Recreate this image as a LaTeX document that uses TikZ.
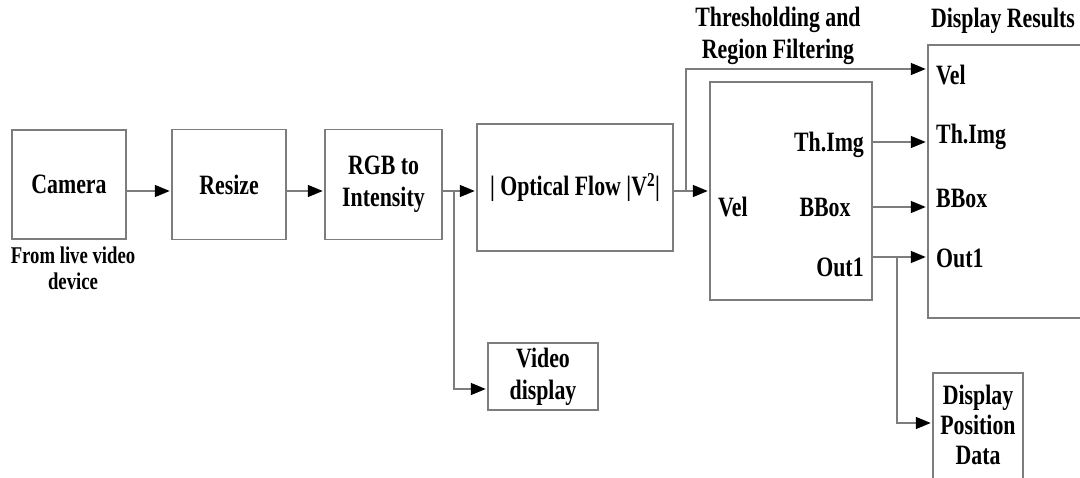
\documentclass[tikz,border=0pt]{standalone}
\usepackage{fontspec}
\setmainfont{Liberation Serif}[FakeStretch=0.78]
\usetikzlibrary{arrows.meta}
\definecolor{linegray}{RGB}{125,125,125}
\begin{document}
\begin{tikzpicture}[x=1pt,y=-1pt,
  box/.style={draw=linegray,line width=1.5pt,inner sep=0pt,align=center,
    font=\bfseries\fontsize{28}{32}\selectfont},
  lbl/.style={inner sep=0pt,align=center,font=\bfseries\fontsize{28}{32}\selectfont},
  smalllbl/.style={inner sep=0pt,align=center,font=\bfseries\fontsize{24}{26}\selectfont},
  arr/.style={draw=linegray,line width=1.5pt,shorten >=1.5pt,
    -{Triangle[length=15pt,width=12pt,color=black]}},
  ln/.style={draw=linegray,line width=1.5pt}]
\useasboundingbox (0,0) rectangle (1080,478);
\clip (0,0) rectangle (1080,478);
\fill[white] (0,0) rectangle (1080,478);

% boxes
\node[box,minimum width=114pt,minimum height=109pt] (cam) at (69,184.5) {Camera};
\node[box,minimum width=114pt,minimum height=110pt] (res) at (229,184.5) {Resize};
\node[box,minimum width=117pt,minimum height=110pt] (rgb) at (383.5,184.5) {RGB to\\Intensity};
\node[box,minimum width=196pt,minimum height=127pt] (of) at (575,187.5) {| Optical Flow |V\textsuperscript{2}|};
\node[box,minimum width=110pt,minimum height=67pt] (vid) at (543,376.5) {Video\\display};
\node[box,minimum width=162pt,minimum height=218pt] (th) at (791,191) {};
\node[box,minimum width=162pt,minimum height=273pt] (dr) at (1009,181.5) {};
\node[box,minimum width=90pt,minimum height=117pt] (dpd) at (978,431.5) {};

% texts
\node[smalllbl] (from) at (73,268) {From live video\\device};
\node[lbl] (tt) at (778,36) {Thresholding and\\Region Filtering};
\node[lbl] (drt) at (1003,21) {Display Results};
\node[lbl,anchor=west] (velin) at (718,207) {Vel};
\node[lbl] (thimg) at (829,145) {Th.Img};
\node[lbl] (bbox) at (825,207) {BBox};
\node[lbl] (out1) at (840,267) {Out1};
\node[lbl,anchor=west] (dvel) at (936,75) {Vel};
\node[lbl,anchor=west] (dthimg) at (936,137) {Th.Img};
\node[lbl,anchor=west] (dbbox) at (936,198) {BBox};
\node[lbl,anchor=west] (dout1) at (936,258) {Out1};
\node[lbl,font=\bfseries\fontsize{28}{30}\selectfont] (dpdt) at (978,425) {Display\\Position\\Data};

% connectors
\coordinate (m) at (0,191);
\draw[arr] (cam.east |- m) -- (res.west |- m);
\draw[arr] (res.east |- m) -- (rgb.west |- m);
\draw[arr] (rgb.east |- m) -- (of.west |- m);
\coordinate (j1) at (454,191);
\coordinate (vy) at (0,389);
\draw[arr] (j1) -- (j1 |- vy) -- (vid.west |- vy);
\draw[arr] (of.east |- m) -- (th.west |- m);
\coordinate (j2) at (686,191);
\coordinate (topy) at (0,69);
\draw[arr] (j2) -- (j2 |- topy) -- (dr.west |- topy);
\coordinate (ya) at (0,142);
\coordinate (yb) at (0,207);
\coordinate (yc) at (0,257);
\draw[arr] (th.east |- ya) -- (dr.west |- ya);
\draw[arr] (th.east |- yb) -- (dr.west |- yb);
\draw[arr] (th.east |- yc) -- (dr.west |- yc);
\coordinate (j3) at (897,257);
\coordinate (yd) at (0,423);
\draw[arr] (j3) -- (j3 |- yd) -- (dpd.west |- yd);
\end{tikzpicture}
\end{document}
